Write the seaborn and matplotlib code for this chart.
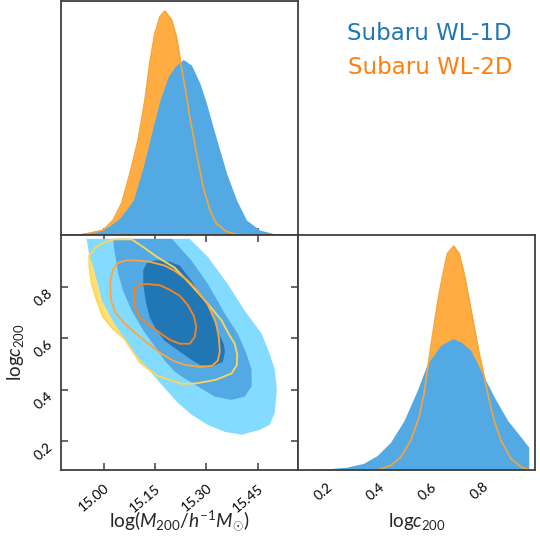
import numpy as np
import matplotlib
matplotlib.use("Agg")
import matplotlib.pyplot as plt
import seaborn as sns

# ---------------- data ----------------
# 1D marginal of log M200, Subaru WL-1D (blue)
wl1d_logm_x = [14.871, 14.940, 14.988, 15.013, 15.047, 15.086, 15.115, 15.139, 15.164,
               15.188, 15.207, 15.232, 15.256, 15.281, 15.300, 15.319, 15.339, 15.359,
               15.388, 15.417, 15.456, 15.505, 15.563]
wl1d_logm_pdf = [0.000, 0.008, 0.022, 0.037, 0.076, 0.156, 0.305, 0.454, 0.603,
                 0.707, 0.751, 0.784, 0.759, 0.677, 0.588, 0.484, 0.379, 0.275,
                 0.156, 0.067, 0.022, 0.003, 0.000]
# 1D marginal of log M200, Subaru WL-2D (orange)
wl2d_logm_x = [14.930, 14.959, 14.998, 15.027, 15.052, 15.076, 15.100, 15.120, 15.134,
               15.149, 15.164, 15.178, 15.198, 15.212, 15.224, 15.237, 15.251, 15.271,
               15.290, 15.310, 15.329, 15.359, 15.388, 15.427]
wl2d_logm_pdf = [0.000, 0.008, 0.022, 0.067, 0.142, 0.275, 0.424, 0.603, 0.767,
                 0.900, 0.975, 1.000, 0.960, 0.885, 0.774, 0.662, 0.528, 0.365,
                 0.216, 0.112, 0.052, 0.015, 0.003, 0.000]
# 1D marginal of log c200
wl1d_logc_x = [0.116, 0.200, 0.277, 0.341, 0.393, 0.444, 0.496, 0.547, 0.586, 0.637,
               0.683, 0.715, 0.753, 0.798, 0.843, 0.895, 0.946, 0.976]
wl1d_logc_pdf = [0.001, 0.005, 0.013, 0.030, 0.065, 0.124, 0.221, 0.356, 0.475, 0.557,
                 0.587, 0.572, 0.535, 0.430, 0.326, 0.221, 0.147, 0.102]
wl2d_logc_x = [0.406, 0.444, 0.483, 0.522, 0.554, 0.573, 0.586, 0.605, 0.625, 0.644,
               0.663, 0.687, 0.708, 0.727, 0.747, 0.766, 0.785, 0.805, 0.824, 0.843,
               0.869, 0.908, 0.946, 0.978]
wl2d_logc_pdf = [0.005, 0.020, 0.057, 0.132, 0.236, 0.341, 0.445, 0.594, 0.744, 0.863,
                 0.967, 1.000, 0.967, 0.878, 0.758, 0.639, 0.520, 0.415, 0.311, 0.221,
                 0.132, 0.050, 0.013, 0.001]

# 2D contours, Subaru WL-1D (filled, three levels)
wl1d_outer_logm = [14.949, 15.251, 15.304, 15.362, 15.412, 15.462, 15.485, 15.500, 15.506,
                   15.500, 15.485, 15.456, 15.403, 15.354, 15.304, 15.257, 15.216, 15.164,
                   15.114, 15.081, 15.041, 15.026, 14.994, 14.982, 14.968, 14.956]
wl1d_outer_logc = [0.985, 0.985, 0.915, 0.810, 0.706, 0.616, 0.539, 0.478, 0.400,
                   0.310, 0.263, 0.244, 0.225, 0.236, 0.263, 0.302, 0.349, 0.426,
                   0.503, 0.554, 0.636, 0.667, 0.745, 0.810, 0.876, 0.927]
wl1d_mid_logm = [15.026, 15.199, 15.207, 15.256, 15.304, 15.354, 15.392, 15.417, 15.432,
                 15.432, 15.412, 15.373, 15.324, 15.275, 15.227, 15.207, 15.178, 15.152,
                 15.115, 15.081, 15.056, 15.042, 15.032]
wl1d_mid_logc = [0.985, 0.985, 0.973, 0.901, 0.810, 0.694, 0.616, 0.539, 0.478,
                 0.412, 0.373, 0.360, 0.373, 0.412, 0.451, 0.470, 0.512, 0.562,
                 0.629, 0.707, 0.783, 0.849, 0.927]
wl1d_inner_logm = [15.115, 15.126, 15.154, 15.193, 15.222, 15.256, 15.300, 15.333, 15.351,
                   15.354, 15.348, 15.318, 15.281, 15.260, 15.231, 15.202, 15.178, 15.154,
                   15.134, 15.123, 15.115]
wl1d_inner_logc = [0.865, 0.892, 0.902, 0.896, 0.881, 0.823, 0.737, 0.629, 0.574,
                   0.547, 0.508, 0.490, 0.496, 0.512, 0.539, 0.566, 0.589, 0.629,
                   0.679, 0.737, 0.807]
# 2D contours, Subaru WL-2D (lines, three levels)
wl2d_outer_logm = [14.957, 14.974, 15.003, 15.032, 15.081, 15.114, 15.155, 15.207, 15.257,
                   15.304, 15.345, 15.365, 15.383, 15.390, 15.389, 15.374, 15.327, 15.269,
                   15.228, 15.193, 15.155, 15.105, 15.085, 15.059, 15.026, 14.997, 14.979,
                   14.964, 14.957]
wl2d_outer_logc = [0.919, 0.950, 0.973, 0.983, 0.983, 0.954, 0.915, 0.873, 0.803,
                   0.733, 0.667, 0.616, 0.578, 0.535, 0.496, 0.463, 0.438, 0.424,
                   0.422, 0.438, 0.454, 0.505, 0.547, 0.598, 0.636, 0.682, 0.746,
                   0.810, 0.876]
wl2d_mid_logm = [15.018, 15.026, 15.041, 15.067, 15.105, 15.134, 15.178, 15.207, 15.243,
                 15.272, 15.304, 15.327, 15.336, 15.339, 15.333, 15.316, 15.281, 15.237,
                 15.202, 15.164, 15.126, 15.091, 15.058, 15.032, 15.020]
wl2d_mid_logc = [0.818, 0.865, 0.892, 0.902, 0.900, 0.896, 0.881, 0.861, 0.826,
                 0.787, 0.729, 0.663, 0.605, 0.547, 0.512, 0.492, 0.488, 0.496,
                 0.512, 0.543, 0.582, 0.620, 0.659, 0.702, 0.748]
wl2d_inner_logm = [15.088, 15.105, 15.126, 15.164, 15.193, 15.222, 15.245, 15.263, 15.270,
                   15.266, 15.251, 15.222, 15.193, 15.164, 15.134, 15.105, 15.091, 15.088]
wl2d_inner_logc = [0.787, 0.807, 0.810, 0.805, 0.787, 0.764, 0.729, 0.686, 0.645,
                   0.605, 0.578, 0.578, 0.593, 0.620, 0.648, 0.679, 0.717, 0.756]

logm_ticks = [15.00, 15.15, 15.30, 15.45]
logc_ticks = [0.2, 0.4, 0.6, 0.8]
legend_labels = ["Subaru WL-1D", "Subaru WL-2D"]
logm_label = r"$\mathrm{log}(M_{200}/h^{-1}M_{\odot})$"
logc_label = r"$\mathrm{log}c_{200}$"

# ---------------- style ----------------
sns.set_theme(style="white")
plt.rcParams["font.family"] = ["Lato", "DejaVu Sans"]
plt.rcParams["mathtext.fontset"] = "custom"
plt.rcParams["mathtext.rm"] = "Lato"
plt.rcParams["mathtext.it"] = "Lato:italic"
plt.rcParams["mathtext.bf"] = "Lato:bold"

blue_fill = "#52a9e3"
orange_fill = "#ffad42"
orange_line = "#f8a437"
c_light = "#83dcff"
c_mid = "#52a9e3"
c_dark = "#2077b4"
y_fill = "#ffe070"
y_line = "#ffd55a"
o_mid_line = "#ffa43c"
o_in_line = "#ff8218"
spine_col = "#3f3f3f"
ROT = 40

W, H = 540, 542
fig = plt.figure(figsize=(W / 100, H / 100), dpi=100)
L, M, R = 61, 298, 535
T, Mi, B = 1, 235, 470


def ax_at(x0, y0, x1, y1):
    return fig.add_axes([x0 / W, 1 - y1 / H, (x1 - x0) / W, (y1 - y0) / H])


ax_m = ax_at(L, T, M, Mi)
ax_2d = ax_at(L, Mi, M, B)
ax_c = ax_at(M, Mi, R, B)

mlim = (14.874, 15.568)
clim = (0.088, 1.0)

for ax in (ax_m, ax_2d, ax_c):
    for s in ax.spines.values():
        s.set_color(spine_col)
        s.set_linewidth(1.3)
        s.set_visible(True)
    ax.set_facecolor("white")

# ---- top-left: logM marginal ----
ax_m.fill_between(wl2d_logm_x, 0, wl2d_logm_pdf, color=orange_fill, lw=0)
ax_m.fill_between(wl1d_logm_x, 0, wl1d_logm_pdf, color=blue_fill, lw=0)
sns.lineplot(x=wl2d_logm_x, y=wl2d_logm_pdf, ax=ax_m, color=orange_line, lw=1.2,
             sort=False, estimator=None)
ax_m.set_xlim(mlim)
ax_m.set_ylim(0, 1.045)
ax_m.set_xticks(logm_ticks)
ax_m.set_yticks([])
ax_m.tick_params(axis="x", direction="in", length=5, width=1.1, color=spine_col,
                 labelbottom=False, bottom=True)
ax_m.set_xlabel("")
ax_m.set_ylabel("")

# ---- bottom-right: logc marginal ----
ax_c.fill_between(wl2d_logc_x, 0, wl2d_logc_pdf, color=orange_fill, lw=0)
ax_c.fill_between(wl1d_logc_x, 0, wl1d_logc_pdf, color=blue_fill, lw=0)
sns.lineplot(x=wl2d_logc_x, y=wl2d_logc_pdf, ax=ax_c, color=orange_line, lw=1.2,
             sort=False, estimator=None)
ax_c.set_xlim(clim)
ax_c.set_ylim(0, 1.05)
ax_c.set_yticks([])
ax_c.set_xticks(logc_ticks)
ax_c.set_xticklabels([f"{v:.1f}" for v in logc_ticks], rotation=ROT, ha="right",
                     va="top", rotation_mode="anchor")
ax_c.tick_params(axis="x", direction="in", length=5, width=1.1, color=spine_col,
                 labelsize=10, pad=7.5, labelcolor="black")
ax_c.set_xlabel(logc_label, fontsize=13.5, va="center")
ax_c.xaxis.set_label_coords(0.5, (B - 521) / (B - Mi))
ax_c.set_ylabel("")


# ---- bottom-left: 2D ----
def closed(a):
    return list(a) + [a[0]]


ax_2d.fill(wl2d_outer_logm, wl2d_outer_logc, color=y_fill, lw=0, zorder=1)
ax_2d.fill(wl1d_outer_logm, wl1d_outer_logc, color=c_light, lw=0, zorder=2)
ax_2d.fill(wl1d_mid_logm, wl1d_mid_logc, color=c_mid, lw=0, zorder=3)
ax_2d.fill(wl1d_inner_logm, wl1d_inner_logc, color=c_dark, lw=0, zorder=4)
for xs, ys, col in ((wl2d_outer_logm, wl2d_outer_logc, y_line),
                    (wl2d_mid_logm, wl2d_mid_logc, o_mid_line),
                    (wl2d_inner_logm, wl2d_inner_logc, o_in_line)):
    sns.lineplot(x=closed(xs), y=closed(ys), ax=ax_2d, color=col, lw=1.3,
                 sort=False, estimator=None, zorder=5)
ax_2d.set_xlim(mlim)
ax_2d.set_ylim(clim)
ax_2d.set_xticks(logm_ticks)
ax_2d.set_yticks(logc_ticks)
ax_2d.set_xticklabels([f"{v:.2f}" for v in logm_ticks], rotation=ROT, ha="right",
                      va="top", rotation_mode="anchor")
ax_2d.set_yticklabels([f"{v:.1f}" for v in logc_ticks], rotation=ROT, ha="right",
                      va="top", rotation_mode="anchor")
ax_2d.tick_params(axis="both", which="both", direction="in", length=5, width=1.1,
                  color=spine_col, labelsize=10, top=True, right=True,
                  bottom=True, left=True, labelcolor="black")
ax_2d.tick_params(axis="x", pad=8.6)
ax_2d.tick_params(axis="y", pad=10.4)
ax_2d.set_xlabel(logm_label, fontsize=13.8, va="center")
ax_2d.xaxis.set_label_coords(0.5, (B - 521) / (B - Mi))
ax_2d.set_ylabel(logc_label, fontsize=13.5, va="center")
ax_2d.yaxis.set_label_coords((16 - L) / (M - L), 0.5)

# ---- legend texts (top-right) ----
fig.text(512 / W, 1 - 39.5 / H, legend_labels[0], color="#1f77b4", fontsize=16.5,
         ha="right", va="baseline", family="DejaVu Sans")
fig.text(512 / W, 1 - 73.5 / H, legend_labels[1], color="#ff7f0e", fontsize=16.5,
         ha="right", va="baseline", family="DejaVu Sans")

fig.savefig("out.png", dpi=100)
